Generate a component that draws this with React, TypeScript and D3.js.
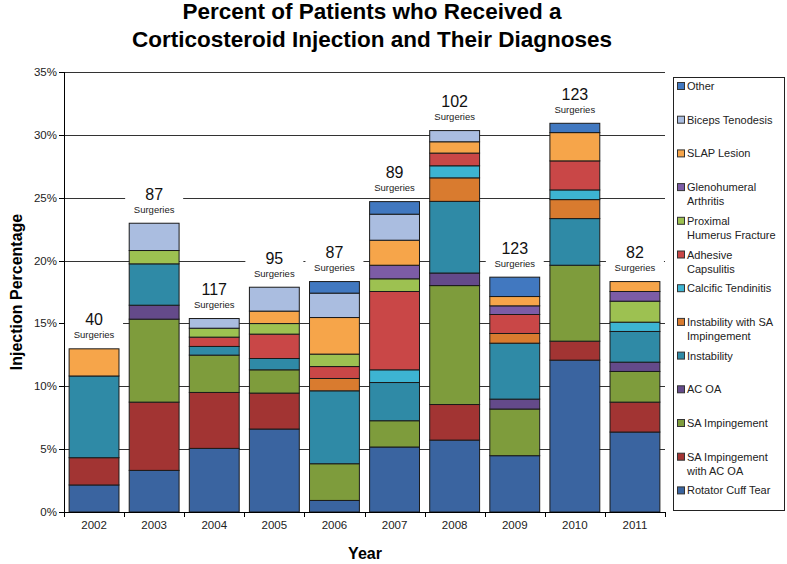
import React from "react";
import * as d3 from "d3";

const years = ["2002", "2003", "2004", "2005", "2006", "2007", "2008", "2009", "2010", "2011"];
const surgeries = [40, 87, 117, 95, 87, 89, 102, 123, 123, 82];

const seriesNames = [
  "Rotator Cuff Tear",
  "SA Impingement with AC OA",
  "SA Impingement",
  "AC OA",
  "Instability",
  "Instability with SA Impingement",
  "Calcific Tendinitis",
  "Adhesive Capsulitis",
  "Proximal Humerus Fracture",
  "Glenohumeral Arthritis",
  "SLAP Lesion",
  "Biceps Tenodesis",
  "Other",
];

const rotatorCuffTear = [2.15, 3.31, 5.06, 6.6, 0.92, 5.17, 5.72, 4.48, 12.08, 6.36];
const saImpAcOa = [2.17, 5.43, 4.45, 2.86, 0, 0, 2.83, 0, 1.51, 2.38];
const saImpingement = [0, 6.6, 2.97, 1.85, 2.92, 2.09, 9.46, 3.71, 6.04, 2.44];
const acOa = [0, 1.11, 0, 0, 0, 0, 1.0, 0.79, 0, 0.74];
const instability = [6.5, 3.29, 0.69, 0.9, 5.8, 3.04, 5.7, 4.45, 3.71, 2.44];
const instabilitySa = [0, 0, 0, 0, 0.98, 0, 1.87, 0.77, 1.51, 0];
const calcific = [0, 0, 0, 0, 0, 1.01, 0.96, 0, 0.77, 0.74];
const adhesive = [0, 0, 0.74, 1.94, 0.95, 6.23, 1.01, 1.51, 2.31, 0];
const proxHumerus = [0, 1.06, 0.71, 0.84, 0.99, 1.01, 0, 0, 0, 1.67];
const glenohumeral = [0, 0, 0, 0, 0, 1.08, 0, 0.69, 0, 0.77];
const slap = [2.16, 0, 0, 0.99, 2.91, 1.99, 0.9, 0.74, 2.25, 0.79];
const biceps = [0, 2.17, 0.77, 1.9, 1.94, 2.07, 0.89, 0, 0, 0];
const other = [0, 0, 0, 0, 0.92, 1.0, 0, 1.54, 0.74, 0];

const seriesValues = [
  rotatorCuffTear, saImpAcOa, saImpingement, acOa, instability, instabilitySa,
  calcific, adhesive, proxHumerus, glenohumeral, slap, biceps, other,
];

const colors = [
  "#3A64A0", "#A23433", "#7E9C3C", "#644A8A", "#2F8AA6", "#D97B2F",
  "#3DB4D2", "#C94747", "#9DC151", "#7C5CA6", "#F6A54A", "#AABDE0", "#4178C0",
];

const legendLines: string[][] = [
  ["Rotator Cuff Tear"],
  ["SA Impingement", "with AC OA"],
  ["SA Impingement"],
  ["AC OA"],
  ["Instability"],
  ["Instability with SA", "Impingement"],
  ["Calcific Tendinitis"],
  ["Adhesive", "Capsulitis"],
  ["Proximal", "Humerus Fracture"],
  ["Glenohumeral", "Arthritis"],
  ["SLAP Lesion"],
  ["Biceps Tenodesis"],
  ["Other"],
];

const yTicks = [0, 5, 10, 15, 20, 25, 30, 35];

const W = 787, H = 564;
const left = 64, right = 665, top = 72, bottom = 512;
const FONT = "'Liberation Sans', Arial, sans-serif";

export default function App() {
  const x = d3.scaleBand<string>().domain(years).range([left, right]).padding(0);
  const y = d3.scaleLinear().domain([0, 35]).range([bottom, top]);
  const barW = x.bandwidth() * 0.83;

  const rows = years.map((yr, i) => {
    const r: Record<string, number | string> = { year: yr };
    seriesNames.forEach((s, k) => (r[s] = seriesValues[k][i]));
    return r;
  });
  const stacked = d3.stack<any>().keys(seriesNames)(rows as any);
  const totals = years.map((_, i) => d3.sum(seriesValues, (s) => s[i]));

  return (
    <svg width={W} height={H} style={{ position: "absolute", left: 0, top: 0, background: "#fff" }} fontFamily={FONT}>
      <rect x={0} y={0} width={W} height={H} fill="#fff" />
      {/* Title */}
      <text x={372} y={19} textAnchor="middle" fontSize={22.5} fontWeight="bold" fill="#000">
        Percent of Patients who Received a
      </text>
      <text x={372} y={47} textAnchor="middle" fontSize={22.5} fontWeight="bold" fill="#000">
        Corticosteroid Injection and Their Diagnoses
      </text>

      {/* Gridlines */}
      {yTicks.slice(1).map((t) => (
        <line key={t} x1={left} x2={right} y1={Math.round(y(t)) + 0.5} y2={Math.round(y(t)) + 0.5} stroke="#333" strokeWidth={1} />
      ))}

      {/* Bars */}
      {stacked.map((layer, k) =>
        layer.map((d, i) => {
          const h = y(d[0]) - y(d[1]);
          if (h <= 0.01) return null;
          return (
            <rect
              key={`${k}-${i}`}
              x={(x(years[i]) as number) + (x.bandwidth() - barW) / 2}
              y={y(d[1])}
              width={barW}
              height={h}
              fill={colors[k]}
              stroke="#1a1a1a"
              strokeWidth={1}
            />
          );
        })
      )}

      {/* Surgery labels */}
      {years.map((yr, i) => {
        const cx = (x(yr) as number) + x.bandwidth() / 2;
        const ty = y(totals[i]);
        return (
          <g key={yr}>
            <rect x={cx - 29} y={ty - 40} width={58} height={34} fill="#fff" />
            <text x={cx} y={ty - 29} textAnchor="middle" dominantBaseline="central" fontSize={16} fill="#111">
              {surgeries[i]}
            </text>
            <text x={cx} y={ty - 14} textAnchor="middle" dominantBaseline="central" fontSize={9.5} fill="#222">
              Surgeries
            </text>
          </g>
        );
      })}

      {/* Axes */}
      <line x1={left + 0.5} x2={left + 0.5} y1={top} y2={bottom} stroke="#000" />
      <line x1={left} x2={right} y1={bottom + 0.5} y2={bottom + 0.5} stroke="#000" />
      {yTicks.map((t) => (
        <g key={t}>
          <line x1={left - 5} x2={left} y1={Math.round(y(t)) + 0.5} y2={Math.round(y(t)) + 0.5} stroke="#000" />
          <text x={left - 7} y={y(t)} textAnchor="end" dominantBaseline="central" fontSize={11.5} fill="#222">
            {t}%
          </text>
        </g>
      ))}
      {years.map((yr) => (
        <line key={yr} x1={Math.round(x(yr) as number) + 0.5} x2={Math.round(x(yr) as number) + 0.5} y1={bottom} y2={bottom + 5} stroke="#000" />
      ))}
      <line x1={right + 0.5} x2={right + 0.5} y1={bottom} y2={bottom + 5} stroke="#000" />
      {years.map((yr) => (
        <text key={yr} x={(x(yr) as number) + x.bandwidth() / 2} y={525} textAnchor="middle" dominantBaseline="central" fontSize={11.5} fill="#222">
          {yr}
        </text>
      ))}

      {/* Axis titles */}
      <text x={365} y={553} textAnchor="middle" dominantBaseline="central" fontSize={16} fontWeight="bold" fill="#000">
        Year
      </text>
      <text transform={`translate(16,${292}) rotate(-90)`} textAnchor="middle" dominantBaseline="central" fontSize={16} fontWeight="bold" fill="#000">
        Injection Percentage
      </text>

      {/* Legend */}
      <rect x={673.5} y={77.5} width={111} height={433} fill="#fff" stroke="#222" strokeWidth={1} />
      {legendLines
        .map((lines, k) => ({ lines, k }))
        .reverse()
        .map(({ lines, k }, j) => {
          const ly = 86 + j * 33.7;
          return (
            <g key={k}>
              <rect x={677.5} y={ly - 3.5} width={7} height={7} fill={colors[k]} stroke="#333" strokeWidth={1} />
              {lines.map((ln, m) => (
                <text key={m} x={687} y={ly + m * 14} dominantBaseline="central" fontSize={11} fill="#222">
                  {ln}
                </text>
              ))}
            </g>
          );
        })}
    </svg>
  );
}
